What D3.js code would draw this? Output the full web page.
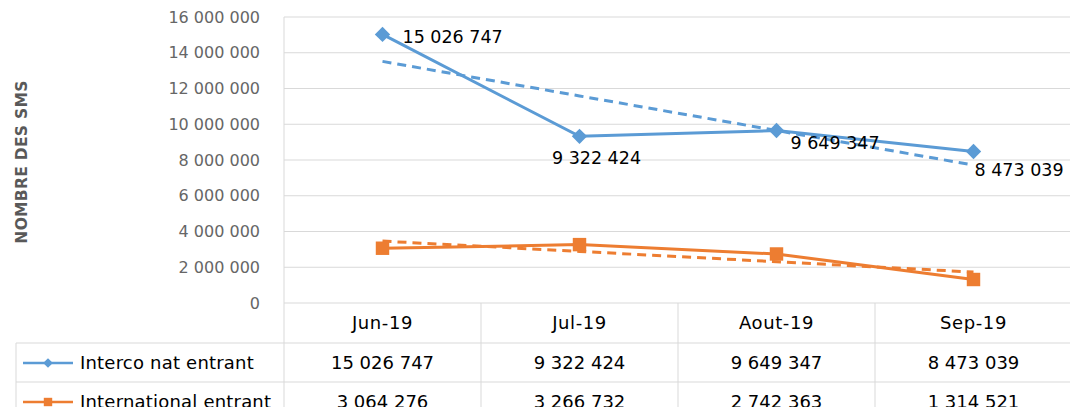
<!DOCTYPE html>
<html>
<head>
<meta charset="utf-8">
<script src="https://cdn.jsdelivr.net/npm/d3@7.9.0/dist/d3.min.js"></script>
<style>
  html, body { margin: 0; padding: 0; background: #fff; }
  svg { display: block; font-family: "DejaVu Sans", sans-serif; }
</style>
</head>
<body>
<svg id="chart" width="1070" height="407"></svg>
<script>
// -------------------------
// Data
// -------------------------
const months = ['Jun-19', 'Jul-19', 'Aout-19', 'Sep-19'];
const interco = [15026747, 9322424, 9649347, 8473039];
const international = [3064276, 3266732, 2742363, 1314521];
const seriesNames = ['Interco nat entrant', 'International entrant'];
const yTicks = [0, 2000000, 4000000, 6000000, 8000000, 10000000, 12000000, 14000000, 16000000];

const blue = '#5b9bd5';
const orange = '#ed7d31';
const grid = '#d9d9d9';

// space as thousands separator
const fmt = v => d3.format(',')(v).replace(/,/g, ' ');

const svg = d3.select('#chart');
const plotL = 284, plotR = 1072, plotT = 17, plotB = 303;

const x = d3.scaleBand().domain(months).range([plotL, plotR]);
const y = d3.scaleLinear().domain([0, 16000000]).range([plotB, plotT]);
const cx = m => x(m) + x.bandwidth() / 2;

// -------------------------
// Grid + y axis labels
// -------------------------
svg.append('g').selectAll('line').data(yTicks).join('line')
  .attr('x1', plotL).attr('x2', plotR)
  .attr('y1', d => y(d)).attr('y2', d => y(d))
  .attr('stroke', grid).attr('stroke-width', 1);

svg.append('g').selectAll('text').data(yTicks).join('text')
  .attr('x', 260).attr('y', d => y(d)).attr('dy', '0.35em')
  .attr('text-anchor', 'end')
  .attr('font-size', 16).attr('fill', '#666')
  .text(d => fmt(d));

svg.append('text')
  .attr('transform', `translate(27,${(plotT + plotB) / 2 + 2}) rotate(-90)`)
  .attr('text-anchor', 'middle')
  .attr('font-size', 15.5).attr('font-weight', 'bold').attr('fill', '#595959')
  .attr('letter-spacing', 0.3)
  .text('NOMBRE DES SMS');

// -------------------------
// Data table
// -------------------------
const rowH = 40;
const rowTops = [plotB, plotB + rowH, plotB + 2 * rowH - 1];
const tableLeft = 16;
const tblFont = 18;

const tbl = svg.append('g');
// vertical lines
[plotL, ...months.map(m => x(m) + x.bandwidth())].forEach(xx => {
  tbl.append('line').attr('x1', xx).attr('x2', xx).attr('y1', xx === plotL ? plotT : plotB).attr('y2', 407)
    .attr('stroke', grid);
});
tbl.append('line').attr('x1', tableLeft).attr('x2', tableLeft)
  .attr('y1', rowTops[1]).attr('y2', 407).attr('stroke', grid);
// horizontal lines
[rowTops[1], rowTops[2]].forEach(yy => {
  tbl.append('line').attr('x1', tableLeft).attr('x2', plotR).attr('y1', yy).attr('y2', yy)
    .attr('stroke', grid);
});

tbl.selectAll('text.hdr').data(months).join('text')
  .attr('class', 'hdr')
  .attr('x', d => cx(d)).attr('y', rowTops[0] + rowH / 2).attr('dy', '0.35em')
  .attr('text-anchor', 'middle').attr('font-size', tblFont).attr('fill', '#000')
  .attr('letter-spacing', 0.6)
  .text(d => d);

[interco, international].forEach((vals, i) => {
  const ry = rowTops[i + 1] + rowH / 2;
  tbl.selectAll(`text.v${i}`).data(vals).join('text')
    .attr('class', `v${i}`)
    .attr('x', (d, j) => cx(months[j])).attr('y', ry).attr('dy', '0.35em')
    .attr('text-anchor', 'middle').attr('font-size', tblFont).attr('fill', '#000')
    .text(d => fmt(d));
  tbl.append('text')
    .attr('x', 80).attr('y', ry).attr('dy', '0.35em')
    .attr('font-size', tblFont).attr('fill', '#000')
    .attr('letter-spacing', 0.2)
    .text(seriesNames[i]);
  const col = i === 0 ? blue : orange;
  tbl.append('line').attr('x1', 23).attr('x2', 73).attr('y1', ry).attr('y2', ry)
    .attr('stroke', col).attr('stroke-width', 2.5);
  tbl.append('path')
    .attr('transform', `translate(48,${ry})`)
    .attr('d', d3.symbol(i === 0 ? d3.symbolDiamond2 : d3.symbolSquare2, i === 0 ? 60 : 90)())
    .attr('fill', col);
});

// -------------------------
// Trendlines (linear fit, like the spreadsheet)
// -------------------------
function linFit(vals) {
  const xs = vals.map((_, i) => i + 1);
  const mx = d3.mean(xs), my = d3.mean(vals);
  const slope = d3.sum(xs, (xi, i) => (xi - mx) * (vals[i] - my)) / d3.sum(xs, xi => (xi - mx) ** 2);
  return xs.map(xi => my + slope * (xi - mx));
}

const line = d3.line().x((d, i) => cx(months[i])).y(d => y(d));

[[interco, blue], [international, orange]].forEach(([vals, col]) => {
  svg.append('path')
    .attr('d', line(linFit(vals)))
    .attr('fill', 'none').attr('stroke', col).attr('stroke-width', 3)
    .attr('stroke-dasharray', '9,6');
});

// -------------------------
// Series lines + markers
// -------------------------
svg.append('path').attr('d', line(interco))
  .attr('fill', 'none').attr('stroke', blue).attr('stroke-width', 3);
svg.append('path').attr('d', line(international))
  .attr('fill', 'none').attr('stroke', orange).attr('stroke-width', 3);

svg.append('g').selectAll('path').data(interco).join('path')
  .attr('transform', (d, i) => `translate(${cx(months[i])},${y(d)})`)
  .attr('d', d3.symbol(d3.symbolDiamond2, 150)())
  .attr('fill', blue);

svg.append('g').selectAll('path').data(international).join('path')
  .attr('transform', (d, i) => `translate(${cx(months[i])},${y(d)})`)
  .attr('d', d3.symbol(d3.symbolSquare2, 230)())
  .attr('fill', orange);

// -------------------------
// Data labels (Interco only)
// -------------------------
const labelOffsets = [[20, 2, 'start'], [17, 22, 'middle'], [14, 12, 'start'], [1, 18, 'start']];
svg.append('g').selectAll('text').data(interco).join('text')
  .attr('x', (d, i) => cx(months[i]) + labelOffsets[i][0])
  .attr('y', (d, i) => y(d) + labelOffsets[i][1])
  .attr('dy', '0.35em')
  .attr('text-anchor', (d, i) => labelOffsets[i][2])
  .attr('font-size', 17.5).attr('fill', '#000')
  .text(d => fmt(d));
</script>
</body>
</html>
